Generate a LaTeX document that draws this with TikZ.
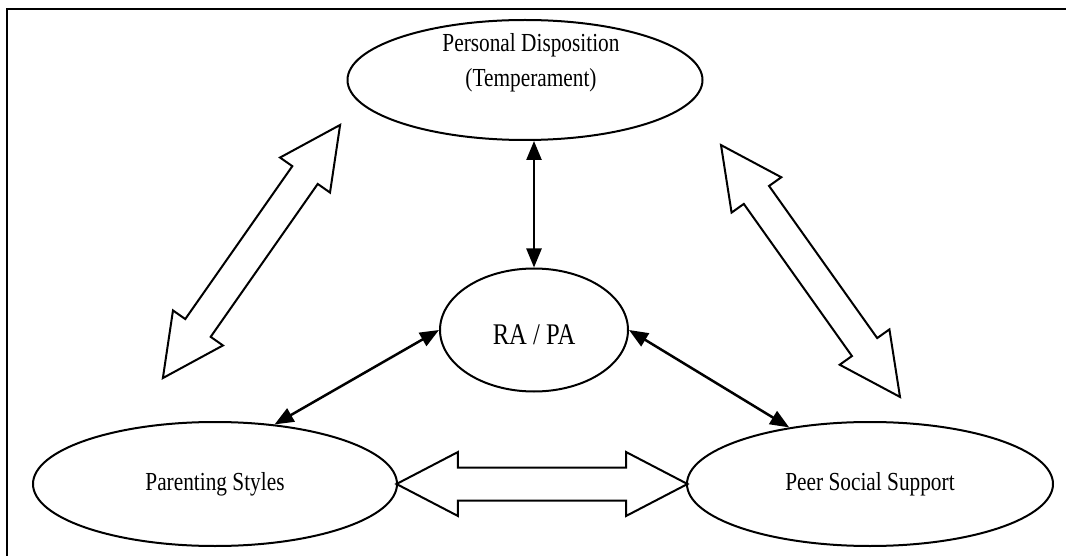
\documentclass[tikz,border=0pt]{standalone}
\usepackage{fontspec}
\newfontfamily\labfont[FakeStretch=0.82]{Liberation Serif}
\usetikzlibrary{shapes.geometric,shapes.arrows,arrows.meta,calc}
\begin{document}
\begin{tikzpicture}[x=1pt,y=-1pt,
  oval/.style={ellipse,draw,line width=2pt,inner sep=0pt,font=\labfont\fontsize{26}{35}\selectfont,align=center},
  lbl/.style={inner sep=0pt,font=\labfont\fontsize{26}{35}\selectfont,align=center},
  link/.style={line width=2.5pt,{Triangle[length=19pt,width=15pt]}-{Triangle[length=19pt,width=15pt]}},
  block/.style={double arrow,draw,line width=2pt,fill=white,inner xsep=0pt,inner ysep=14.5pt,double arrow head extend=15pt,double arrow tip angle=53}]
\useasboundingbox (0,0) rectangle (1066,556);
\draw[line width=2pt] (7,556) -- (7,9) -- (1070,9);
% nodes
\node[oval,minimum width=355pt,minimum height=120pt] (pd) at (525,80) {};
\node[lbl,anchor=north] (pdt) at (531,33) {Personal Disposition\\(Temperament)};
\node[oval,minimum width=188pt,minimum height=123pt,font=\labfont\fontsize{30}{36}\selectfont,text height=28pt,text depth=0pt] (ra) at (534,330) {RA / PA};
\node[oval,minimum width=364pt,minimum height=124pt] (ps) at (215,484) {Parenting Styles};
\node[oval,minimum width=366pt,minimum height=124pt] (pss) at (870,484) {Peer Social Support};
% thin arrows
\draw[link] (ra.north) -- (ra.north |- pd.south);
\draw[link] (ra.west) -- (ps.45);
\draw[link] (ra.east) -- (pss.145);
% block arrows
\node[block,inner ysep=15.5pt,double arrow head extend=15.5pt,double arrow tip angle=55,minimum height=291pt] (hb) at ($(ps.east)!0.5!(pss.west)$) {};
\node[block,minimum height=309pt,rotate=55] (lb) at (251.5,251.5) {};
\node[block,minimum height=309pt,rotate=-54.6] (rb) at (810.5,271) {};
\end{tikzpicture}
\end{document}
